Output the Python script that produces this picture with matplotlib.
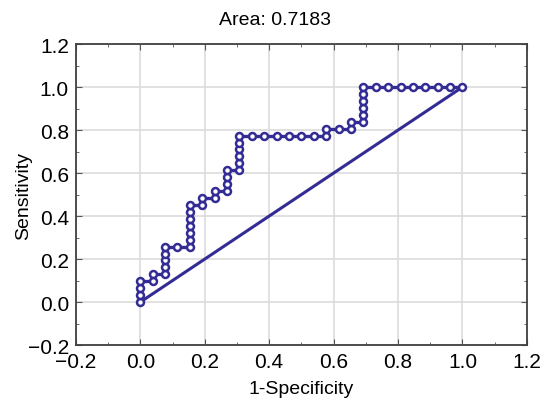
import matplotlib
matplotlib.use('Agg')
from matplotlib import pyplot as plt
from matplotlib.ticker import MultipleLocator

# ROC points as counts: false positives (of 26 negatives), true positives (of 31 positives)
n_neg = 26
n_pos = 31
fp = [0, 0, 0, 0, 1, 1, 2, 2, 2, 2, 2, 3, 4, 4, 4, 4, 4, 4, 4, 5, 5, 6, 6, 7, 7, 7, 7,
      8, 8, 8, 8, 8, 8, 9, 10, 11, 12, 13, 14, 15, 15, 16, 17, 17, 18, 18, 18, 18, 18, 18,
      19, 20, 21, 22, 23, 24, 25, 26]
tp = [0, 1, 2, 3, 3, 4, 4, 5, 6, 7, 8, 8, 8, 9, 10, 11, 12, 13, 14, 14, 15, 15, 16, 16, 17, 18, 19,
      19, 20, 21, 22, 23, 24, 24, 24, 24, 24, 24, 24, 24, 25, 25, 25, 26, 26, 27, 28, 29, 30, 31,
      31, 31, 31, 31, 31, 31, 31, 31]
area_text = 'Area: 0.7183'

x = [v / n_neg for v in fp]
y = [v / n_pos for v in tp]

plt.rcParams['font.family'] = ['Liberation Sans', 'DejaVu Sans']

fig = plt.figure(figsize=(5.5, 4.1), dpi=100)
ax = fig.add_axes([0.138, 0.156, 0.82, 0.734])

col = '#332c94'

# chance line
ax.plot([0, 1], [0, 1], color=col, lw=2.2, zorder=3)
ax.plot([0], [0], marker='o', ms=3.5, mfc='white', mec=col, mew=1, zorder=4)

# ROC curve
ax.plot(x, y, color=col, lw=2.4, marker='o', ms=5, mfc='white', mec=col, mew=1.8, zorder=5)

ax.set_xlim(-0.2, 1.2)
ax.set_ylim(-0.2, 1.2)
ax.xaxis.set_major_locator(MultipleLocator(0.2))
ax.yaxis.set_major_locator(MultipleLocator(0.2))
ax.xaxis.set_minor_locator(MultipleLocator(0.1))
ax.yaxis.set_minor_locator(MultipleLocator(0.1))
ax.tick_params(which='both', direction='in', top=True, right=True, color='#555555')
ax.tick_params(which='major', length=4, labelsize=15, pad=5)
ax.tick_params(which='minor', length=2.5)
ax.grid(True, which='major', color='#dcdcdc', lw=1.2)
ax.set_axisbelow(True)
for s in ax.spines.values():
    s.set_color('#404040')
    s.set_linewidth(1.3)

ax.set_xlabel('1-Specificity', fontsize=14, labelpad=6.5)
ax.set_ylabel('Sensitivity', fontsize=14, labelpad=-3)
fig.text(0.5, 0.949, area_text, fontsize=14, ha='center', va='center')

fig.savefig('out.png', dpi=100)
